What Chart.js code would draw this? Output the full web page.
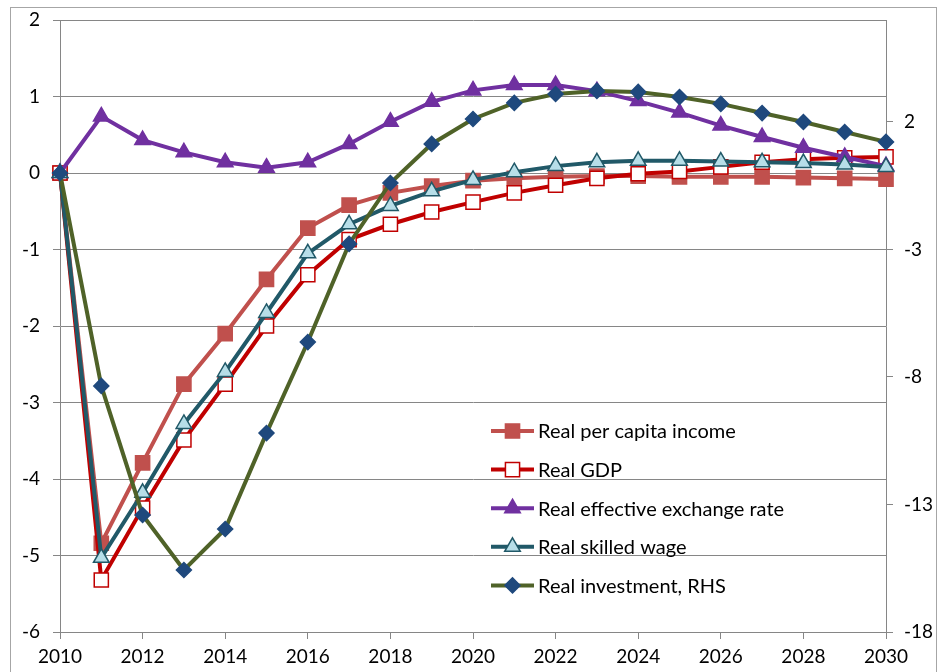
<!DOCTYPE html>
<html>
<head>
<meta charset="utf-8">
<script src="https://cdn.jsdelivr.net/npm/chart.js@4.4.1/dist/chart.umd.min.js"></script>
<style>
html, body { margin: 0; padding: 0; background: #fff; }
#wrap { width: 938px; height: 672px; position: relative; }
</style>
</head>
<body>
<div id="wrap"><canvas id="chart" width="938" height="672"></canvas></div>
<script>
var years = ['2010', '2011', '2012', '2013', '2014', '2015', '2016', '2017', '2018', '2019', '2020',
    '2021', '2022', '2023', '2024', '2025', '2026', '2027', '2028', '2029', '2030']

var perCapitaIncome = [0, -4.84, -3.79, -2.76, -2.1, -1.39, -0.72, -0.42, -0.26, -0.17, -0.1,
    -0.07, -0.05, -0.04, -0.04, -0.05, -0.05, -0.05, -0.06, -0.07, -0.08]
var realGdp = [0, -5.32, -4.38, -3.49, -2.76, -2.0, -1.33, -0.87, -0.67, -0.51, -0.38,
    -0.26, -0.16, -0.07, -0.01, 0.02, 0.08, 0.14, 0.18, 0.2, 0.21]
var exchangeRate = [0, 0.74, 0.43, 0.27, 0.14, 0.07, 0.14, 0.38, 0.67, 0.93, 1.08,
    1.15, 1.15, 1.07, 0.94, 0.79, 0.62, 0.47, 0.33, 0.21, 0.09]
var skilledWage = [0, -5.03, -4.18, -3.28, -2.6, -1.83, -1.05, -0.67, -0.43, -0.24, -0.09,
    0.01, 0.09, 0.14, 0.16, 0.16, 0.15, 0.14, 0.13, 0.11, 0.08]
var investment = [0, -8.35, -13.41, -15.57, -13.96, -10.2, -6.63, -2.78, -0.39, 1.14, 2.12,
    2.75, 3.1, 3.22, 3.18, 2.98, 2.71, 2.35, 2.0, 1.61, 1.22]

var leftTicks = [-6, -5, -4, -3, -2, -1, 0, 1, 2]
var rightTicks = [-18, -13, -8, -3, 2]

var font = 'Lato'
var gridColor = '#868686'

function series(label, data, line, fill, border, style, radius, axis, order) {
    return {
        label: label,
        data: data,
        yAxisID: axis,
        order: order,
        borderColor: line,
        borderWidth: 4,
        tension: 0,
        pointStyle: style,
        pointRadius: radius,
        pointHoverRadius: radius,
        pointBackgroundColor: fill,
        pointBorderColor: border,
        pointBorderWidth: 1.5
    }
}

//Draws the marker used in the legend, same shapes as Chart.js point styles
function drawMarker(ctx, style, r, x, y) {
    ctx.beginPath()
    if (style == 'rect') {
        let s = Math.SQRT1_2 * r
        ctx.rect(x - s, y - s, 2 * s, 2 * s)
    } else if (style == 'triangle') {
        ctx.moveTo(x, y - r)
        ctx.lineTo(x + r * Math.sin(Math.PI / 3), y + r / 2)
        ctx.lineTo(x - r * Math.sin(Math.PI / 3), y + r / 2)
        ctx.closePath()
    } else {
        ctx.moveTo(x - r, y)
        ctx.lineTo(x, y - r)
        ctx.lineTo(x + r, y)
        ctx.lineTo(x, y + r)
        ctx.closePath()
    }
    ctx.fill()
    ctx.stroke()
}

var framePlugin = {
    id: 'frame',
    beforeDraw: (chart) => {
        let ctx = chart.ctx
        ctx.save()
        ctx.fillStyle = '#fff'
        ctx.fillRect(0, 0, chart.width, chart.height)
        ctx.strokeStyle = '#a6a6a6'
        ctx.lineWidth = 1
        ctx.strokeRect(10.5, 7.5, 926, 700)
        ctx.restore()
    }
}

//Legend sits inside the plot area in the original, so it is drawn by hand
var legendPlugin = {
    id: 'insideLegend',
    afterDatasetsDraw: (chart) => {
        let ctx = chart.ctx
        let area = chart.chartArea
        let x0 = area.left + 431
        let y0 = 431
        let items = chart.data.datasets
        ctx.save()
        items.forEach((ds, i) => {
            let y = y0 + i * 38.6
            ctx.strokeStyle = ds.borderColor
            ctx.lineWidth = 4
            ctx.beginPath()
            ctx.moveTo(x0, y)
            ctx.lineTo(x0 + 43, y)
            ctx.stroke()
            ctx.fillStyle = ds.pointBackgroundColor
            ctx.strokeStyle = ds.pointBorderColor
            ctx.lineWidth = ds.pointBorderWidth
            drawMarker(ctx, ds.pointStyle, ds.pointRadius, x0 + 21.5, y)
            ctx.fillStyle = '#000'
            ctx.font = '20px ' + font
            ctx.textBaseline = 'middle'
            ctx.textAlign = 'left'
            ctx.fillText(ds.label, x0 + 47, y + 1)
        })
        ctx.restore()
    }
}

// tick label padding would otherwise push the plot top down
function fixVertical(scale, w) {
    scale.width = w
    scale.paddingTop = 0
    scale.paddingBottom = 0
}

new Chart(document.getElementById('chart'), {
    type: 'line',
    data: {
        labels: years,
        datasets: [
            series('Real per capita income', perCapitaIncome, '#c0504d', '#c0504d', '#c0504d', 'rect', 10, 'y', 5),
            series('Real GDP', realGdp, '#c00000', '#ffffff', '#c00000', 'rect', 10, 'y', 4),
            series('Real effective exchange rate', exchangeRate, '#7030a0', '#7030a0', '#7030a0', 'triangle', 9, 'y', 3),
            series('Real skilled wage', skilledWage, '#215968', '#b7dee8', '#215968', 'triangle', 9, 'y', 2),
            series('Real investment, RHS', investment, '#4f6228', '#1f497d', '#1f497d', 'rectRot', 7.5, 'y1', 1)
        ]
    },
    options: {
        responsive: false,
        animation: false,
        devicePixelRatio: 1,
        layout: { padding: { top: 20, left: 0, right: 0, bottom: 0 } },
        plugins: {
            legend: { display: false },
            tooltip: { enabled: false }
        },
        scales: {
            x: {
                type: 'category',
                offset: false,
                border: { display: true, color: gridColor },
                grid: {
                    drawOnChartArea: false,
                    drawTicks: true,
                    tickLength: 7,
                    color: (c) => c.index % 2 == 0 ? gridColor : 'rgba(0,0,0,0)'
                },
                ticks: {
                    autoSkip: false,
                    maxRotation: 0,
                    padding: 6,
                    color: '#000',
                    font: { family: font, size: 19 },
                    callback: function (v, i) { return i % 2 == 0 ? years[i] : '' }
                },
                afterFit: (scale) => { scale.height = 40 }
            },
            y: {
                position: 'left',
                min: leftTicks[0],
                max: leftTicks[leftTicks.length - 1],
                border: { display: true, color: gridColor },
                grid: { color: gridColor, tickLength: 7 },
                ticks: {
                    stepSize: 1,
                    padding: 13,
                    color: '#000',
                    font: { family: font, size: 19 }
                },
                afterBuildTicks: (scale) => { scale.ticks = leftTicks.map((v) => ({ value: v })) },
                afterFit: (scale) => fixVertical(scale, 60)
            },
            y1: {
                position: 'right',
                min: -18,
                max: 6,
                border: { display: true, color: gridColor },
                grid: { drawOnChartArea: false, color: gridColor, tickLength: 7 },
                ticks: {
                    padding: 11,
                    color: '#000',
                    font: { family: font, size: 19 }
                },
                afterBuildTicks: (scale) => { scale.ticks = rightTicks.map((v) => ({ value: v })) },
                afterFit: (scale) => fixVertical(scale, 52)
            }
        }
    },
    plugins: [framePlugin, legendPlugin]
})
</script>
</body>
</html>
